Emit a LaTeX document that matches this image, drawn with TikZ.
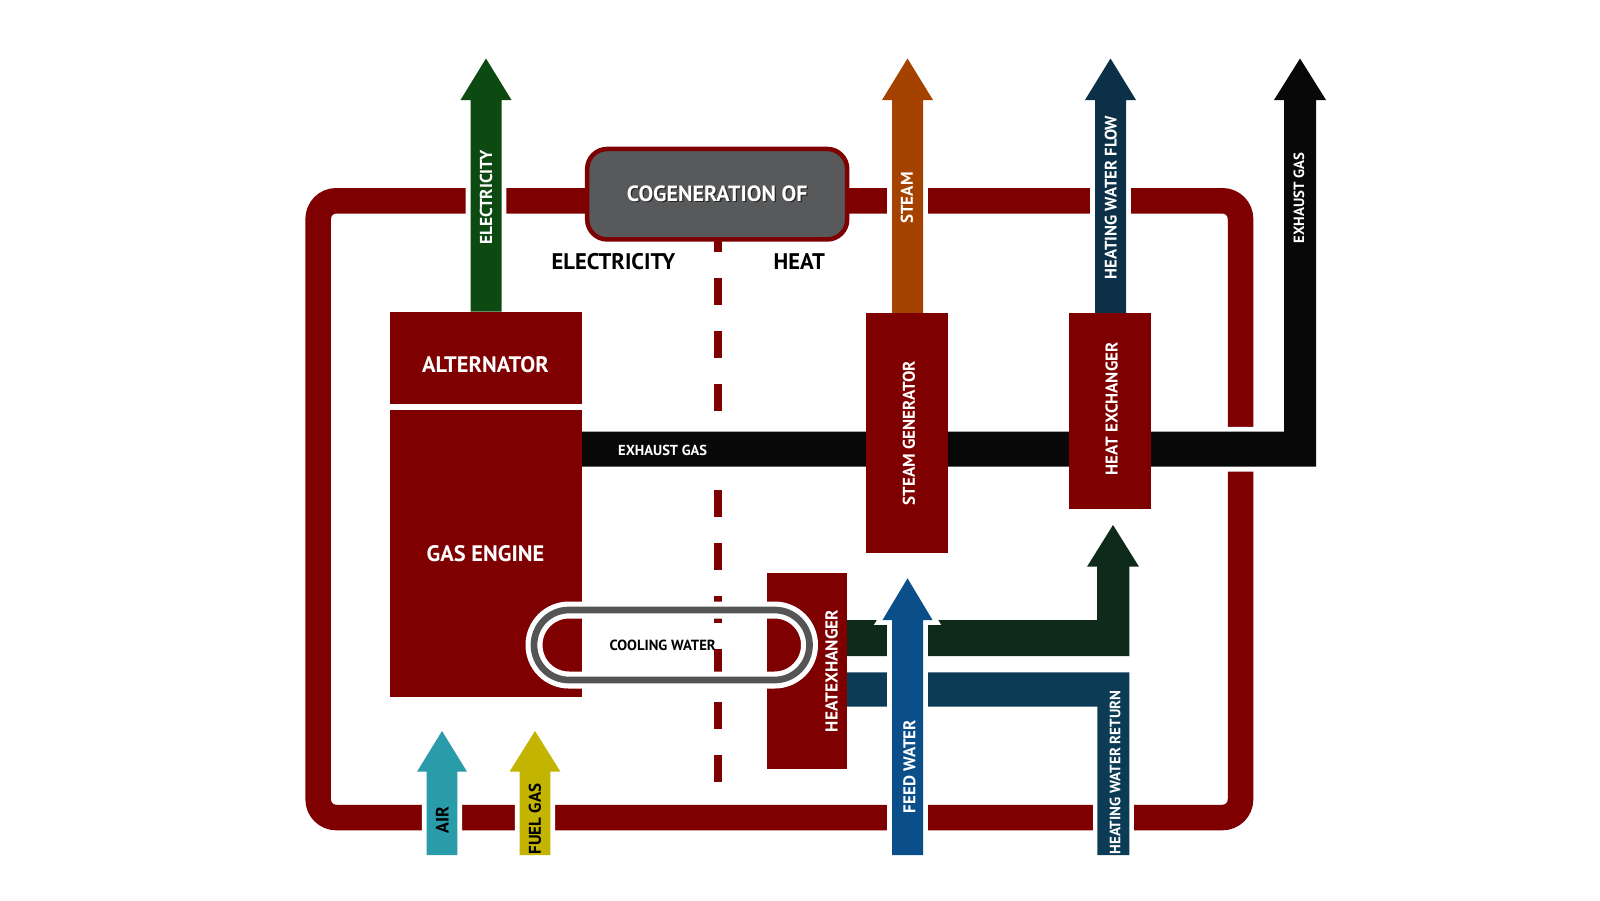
\documentclass[tikz,border=0pt]{standalone}
\usepackage{fontspec}
\setmainfont{PT Sans}
\definecolor{pipered}{RGB}{126,0,0}
\definecolor{boxgray}{RGB}{88,89,91}
\definecolor{ringgray}{RGB}{85,85,85}
\definecolor{elecgreen}{RGB}{12,74,18}
\definecolor{steamorange}{RGB}{166,66,0}
\definecolor{flowblue}{RGB}{11,48,71}
\definecolor{exhaustblack}{RGB}{8,8,8}
\definecolor{airteal}{RGB}{42,155,168}
\definecolor{fuelyellow}{RGB}{194,180,0}
\definecolor{feedblue}{RGB}{10,78,138}
\definecolor{hotgreen}{RGB}{14,42,26}
\definecolor{returnblue}{RGB}{12,59,85}
\newcommand\fsz[1]{\fontsize{#1}{#1}\selectfont}
\newcommand\dropshadow[1]{\rlap{\hspace{1.3pt}\raisebox{-1.3pt}{\color{black!85}#1}}#1}
\tikzset{
 pipe/.style={draw=pipered, line width=25.5pt, rounded corners=18pt},
 divider/.style={draw=pipered, line width=7.7pt, dash pattern=on 26.5pt off 26.5pt},
 flow/.style={preaction={draw=white, line width=9.6pt}},
 ring/.style={draw=ringgray, line width=6.7pt, rounded corners=34.9pt,
   preaction={draw=white, line width=17pt}},
 cogen/.style={draw=pipered, line width=4.5pt, fill=boxgray, rounded corners=20pt,
   minimum width=260pt, minimum height=90.5pt, inner sep=0pt, text=white,
   font=\bfseries\fsz{22}},
 unittext/.style={inner sep=0pt, text=white, font=\bfseries\fsz{22.4}},
 sidetext/.style={inner sep=0pt, text=black, font=\bfseries\fsz{22.6}},
 tag/.style={inner sep=0pt, text=white, rotate=90, font=\bfseries\fsz{#1}},
 tag/.default=16,
}
\begin{document}
\begin{tikzpicture}[x=1pt,y=-1pt]
 \useasboundingbox (0,0) rectangle (1600,900);
 \fill[white] (0,0) rectangle (1600,900);
 %
 \draw[pipe] (318.2,200.8) rectangle (1240.5,817.5);
 %
 \coordinate (divtop) at (718,225.3);
 \coordinate (divbot) at (718,782);
 \draw[divider] (divtop) -- (divbot);
 %
 \fill[flow,exhaustblack] (582,431.7) -- (1284,431.7) -- (1284,100) -- (1274,100) -- (1300,58.5)
   -- (1326,100) -- (1316,100) -- (1316,466.7) -- (582,466.7) -- cycle;
 \fill[flow,returnblue] (846.8,672.3) -- (1129.3,672.3) -- (1129.3,855) -- (1097.3,855)
   -- (1097.3,706.7) -- (846.8,706.7) -- cycle;
 \fill[flow,hotgreen] (846.8,620) -- (1097,620) -- (1097,566.7) -- (1087,566.7) -- (1113,525)
   -- (1139,566.7) -- (1129.3,566.7) -- (1129.3,656) -- (846.8,656) -- cycle;
 %
 \fill[flow,elecgreen] (470.5,311.7) -- (470.5,100) -- (460.5,100) -- (486,58.5) -- (511.5,100)
   -- (501.5,100) -- (501.5,311.7) -- cycle;
 \fill[flow,steamorange] (892,313.3) -- (892,100) -- (882,100) -- (907.5,58.5) -- (933,100)
   -- (923,100) -- (923,313.3) -- cycle;
 \fill[flow,flowblue] (1095,313.3) -- (1095,100) -- (1085,100) -- (1110.5,58.5) -- (1136,100)
   -- (1126,100) -- (1126,313.3) -- cycle;
 \fill[flow,feedblue] (892,855) -- (892,620) -- (882.5,620) -- (907.5,578.3) -- (932.5,620)
   -- (923,620) -- (923,855) -- cycle;
 \fill[flow,airteal] (426.6,855) -- (426.6,771.7) -- (417,771.7) -- (442,731) -- (467,771.7)
   -- (457.4,771.7) -- (457.4,855) -- cycle;
 \fill[flow,fuelyellow] (519.6,855) -- (519.6,771.7) -- (509.5,771.7) -- (535,731) -- (560.5,771.7)
   -- (550.4,771.7) -- (550.4,855) -- cycle;
 %
 \fill[pipered] (390,311.7) rectangle (582,404.3);
 \fill[pipered] (390,410) rectangle (582,697.3);
 \fill[pipered] (866,313.3) rectangle (948.3,553.3);
 \fill[pipered] (1069.3,313.3) rectangle (1150.7,509.3);
 \fill[pipered] (766.5,572.7) rectangle (846.8,769.3);
 \draw[ring] (534,610) rectangle (809.5,680);
 %
 \node[cogen] (cogen) at (717.2,194.2) {\dropshadow{COGENERATION OF}};
 \node[sidetext] (elecside) at (613.4,261.7) {ELECTRICITY};
 \node[sidetext] (heatside) at (799.3,261.7) {HEAT};
 \node[unittext] (alt) at (485.5,364.3) {ALTERNATOR};
 \node[unittext] (engine) at (485.5,553.3) {GAS ENGINE};
 \node[unittext, font=\bfseries\fsz{14.5}] (exhaustband) at (662.7,450.7) {EXHAUST GAS};
 \node[unittext, text=black, font=\bfseries\fsz{14.7}] (cooling) at (662.7,645) {COOLING WATER};
 \node[tag=17] (steamgen) at (909,433.3) {STEAM GENERATOR};
 \node[tag=17] (hxtop) at (1111.7,409) {HEAT EXCHANGER};
 \node[tag=17.3] (hxlow) at (831.5,671) {HEATEXHANGER};
 %
 \node[tag=17.3] (elecout) at (486,197.5) {ELECTRICITY};
 \node[tag=17] (steamout) at (907,198) {STEAM};
 \node[tag=16.7] (flowout) at (1110.8,197.5) {HEATING WATER FLOW};
 \node[tag=14.8] (exhaustout) at (1299,197.8) {EXHAUST GAS};
 \node[tag=17] (feedin) at (909.3,766.7) {FEED WATER};
 \node[tag=15] (returnin) at (1115,772.5) {HEATING WATER RETURN};
 \node[tag=18, text=black] (airin) at (442.3,820) {AIR};
 \node[tag=17, text=black] (fuelin) at (535,819) {FUEL GAS};
\end{tikzpicture}
\end{document}
